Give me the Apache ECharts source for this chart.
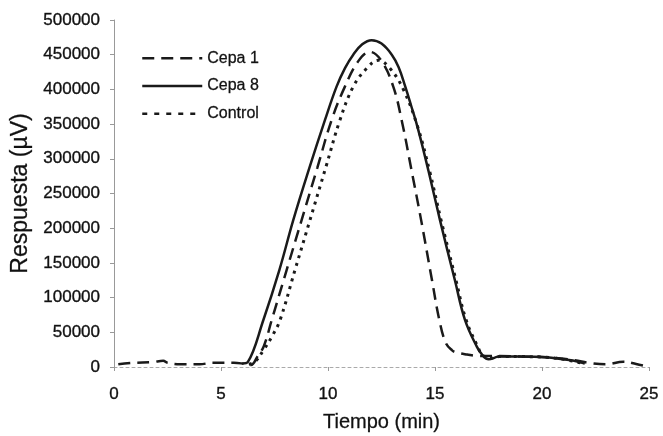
<!DOCTYPE html>
<html>
<head>
<meta charset="utf-8">
<script src="https://cdn.jsdelivr.net/npm/echarts@6/dist/echarts.min.js"></script>
<style>
  html, body { margin: 0; padding: 0; background: #fff; }
  #chart { width: 663px; height: 436px; }
</style>
</head>
<body>
<div id="chart"></div>
<script>
var cepa1Time = [0.2, 0.9, 1.8, 2.3, 2.5, 3.1, 4.0, 4.6, 5.6, 6.0, 6.4, 6.7, 7.0, 7.37, 8.07, 8.77, 9.5, 10.17, 10.79, 11.4, 11.96, 12.5, 13.05, 13.44, 13.9, 14.35, 14.86, 15.2, 15.5, 15.8, 16.0, 16.5, 17.0, 17.9, 19.0, 20.2, 21.5, 22.2, 23.0, 23.8, 24.4, 25.0]
var cepa1Resp = [4000, 6000, 7000, 9000, 6000, 4000, 4000, 6000, 6000, 5000, 3000, 15000, 30000, 67700, 140000, 212000, 287000, 356000, 404000, 440000, 454000, 441000, 404000, 356000, 284000, 212000, 125000, 68000, 35000, 24000, 21000, 18000, 16000, 16000, 15000, 14000, 10000, 6000, 4000, 7600, 4300, 0]

var cepa8Time = [6.0, 6.25, 6.98, 7.73, 8.38, 9.1, 9.86, 10.4, 10.8, 11.18, 11.6, 12.04, 12.5, 12.98, 13.3, 13.6, 13.9, 14.19, 14.7, 15.23, 15.93, 16.4, 16.96, 17.2, 17.5, 18.0, 19.0, 20.2, 21.0, 21.5, 22.0]
var cepa8Resp = [5000, 7000, 67700, 140000, 212000, 284000, 356000, 404000, 431000, 450000, 465000, 471000, 466000, 450000, 432000, 405000, 375000, 345000, 282000, 212000, 125000, 68000, 29000, 18000, 11000, 15000, 15000, 14000, 11000, 9000, 5000]

var controlTime = [6.3, 6.6, 7.0, 7.4, 7.76, 8.46, 9.16, 9.9, 10.56, 11.18, 11.8, 12.35, 12.9, 13.52, 14.2, 14.75, 15.28, 15.98, 16.45, 17.0, 17.2, 17.5, 18.0, 19.0, 20.2, 21.0, 21.8]
var controlResp = [4000, 8000, 25000, 45000, 67700, 140000, 212000, 288000, 356000, 404000, 430000, 442000, 430000, 400000, 345000, 282000, 212000, 125000, 68000, 29000, 18000, 12000, 15000, 15000, 14000, 11000, 6000]

function pairs(xs, ys) {
  return xs.map(function(x, i) { return [x, ys[i]] })
}

var chart = echarts.init(document.getElementById('chart'))
var font = 'Liberation Sans, Arial, sans-serif'
var ink = '#111'

chart.setOption({
  animation: false,
  backgroundColor: '#fff',
  grid: {
    left: 114,
    right: 14,
    top: 20,
    bottom: 69,
    outerBoundsMode: 'none'
  },
  legend: {
    orient: 'vertical',
    left: 136,
    top: 45,
    itemWidth: 60,
    itemHeight: 14,
    itemGap: 11.5,
    textStyle: { fontFamily: font, fontSize: 16, color: ink, textBorderColor: '#333', textBorderWidth: 0.3 },
    itemStyle: { opacity: 0 },
    lineStyle: { width: 2.5 },
    data: [
      { name: 'Cepa 1' },
      { name: 'Cepa 8' },
      { name: 'Control', lineStyle: { type: [5, 7], width: 2.5 } }
    ]
  },
  xAxis: {
    type: 'value',
    min: 0,
    max: 25,
    interval: 5,
    name: 'Tiempo (min)',
    nameLocation: 'middle',
    nameGap: 45,
    nameTextStyle: { fontFamily: font, fontSize: 20, color: ink, textBorderColor: '#333', textBorderWidth: 0.3 },
    axisLine: { lineStyle: { color: '#aaa', type: [3, 3], width: 1 } },
    axisTick: { length: 4, lineStyle: { color: '#999' } },
    axisLabel: { margin: 19, fontFamily: font, fontSize: 17, color: ink, textBorderColor: '#333', textBorderWidth: 0.4 },
    splitLine: { show: false }
  },
  yAxis: {
    type: 'value',
    min: 0,
    max: 500000,
    interval: 50000,
    name: 'Respuesta (µV)',
    nameLocation: 'middle',
    nameGap: 82,
    nameTextStyle: { fontFamily: font, fontSize: 23, color: ink, textBorderColor: '#333', textBorderWidth: 0.3 },
    axisLine: { show: true, lineStyle: { color: '#999', width: 1 } },
    axisTick: { show: true, length: 4, lineStyle: { color: '#999' } },
    axisLabel: {
      margin: 14,
      fontFamily: font,
      fontSize: 17,
      color: ink,
      textBorderColor: '#333',
      textBorderWidth: 0.4,
      formatter: function(v) { return String(v) }
    },
    splitLine: { show: false }
  },
  series: [
    {
      name: 'Cepa 1',
      type: 'line',
      symbol: 'none',
      smooth: 0.4,
      lineStyle: { color: '#1a1a1a', width: 2.5, type: [12, 7] },
      data: pairs(cepa1Time, cepa1Resp)
    },
    {
      name: 'Cepa 8',
      type: 'line',
      symbol: 'none',
      smooth: 0.4,
      lineStyle: { color: '#1a1a1a', width: 2.5, type: 'solid' },
      data: pairs(cepa8Time, cepa8Resp)
    },
    {
      name: 'Control',
      type: 'line',
      symbol: 'none',
      smooth: 0.4,
      lineStyle: { color: '#1a1a1a', width: 3, type: [3, 5] },
      data: pairs(controlTime, controlResp)
    }
  ],
  color: ['#1a1a1a', '#1a1a1a', '#1a1a1a']
})
</script>
</body>
</html>
